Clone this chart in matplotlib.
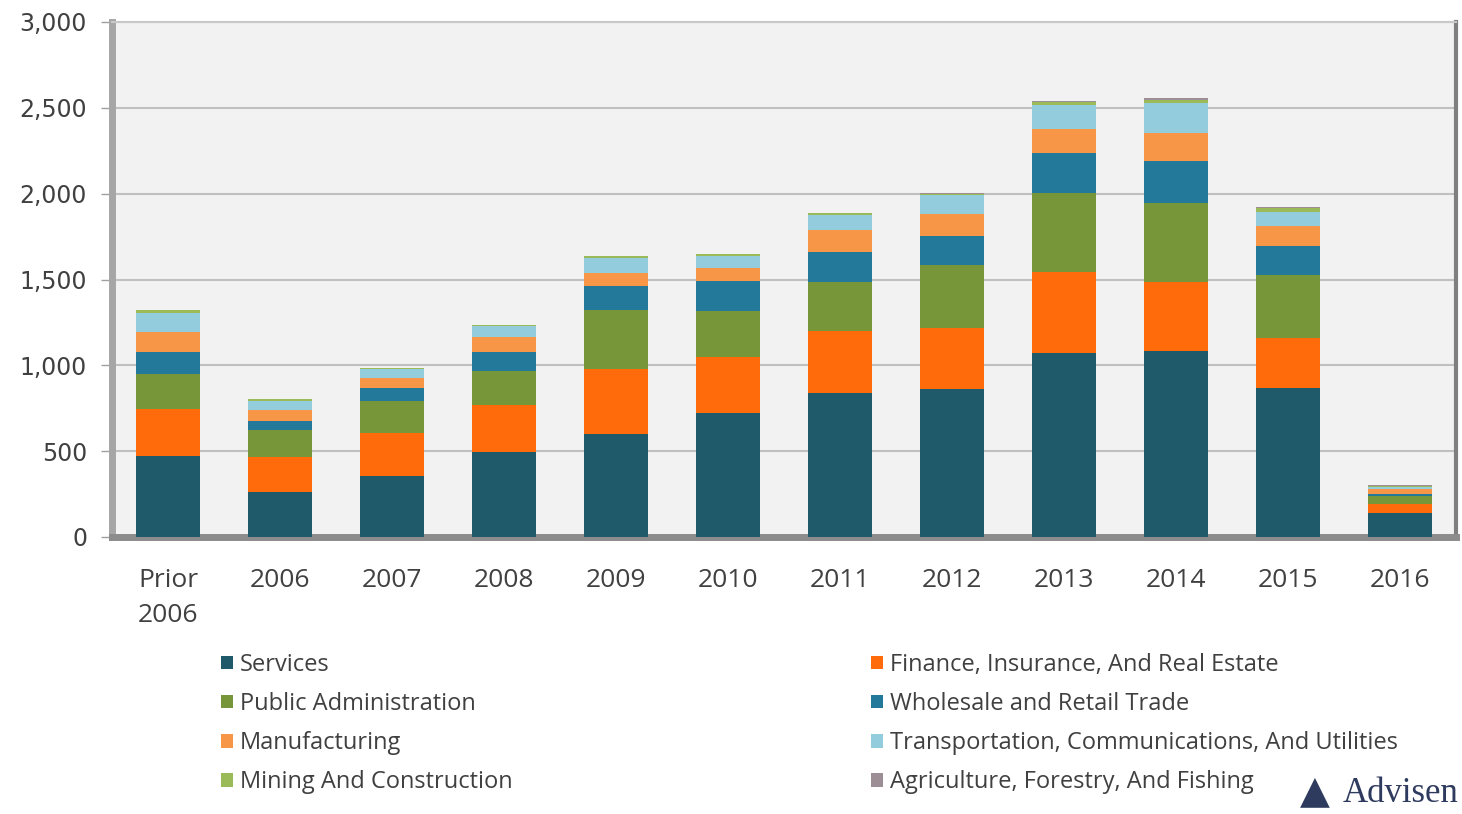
import numpy as np
import matplotlib
matplotlib.use("Agg")
import matplotlib.pyplot as plt

# values
years = ["Prior\n2006", "2006", "2007", "2008", "2009", "2010",
         "2011", "2012", "2013", "2014", "2015", "2016"]
services = [473, 264, 355, 495, 600, 720, 837, 860, 1074, 1085, 866, 140]
finance = [271, 200, 249, 274, 377, 330, 363, 356, 471, 398, 291, 50]
public_admin = [204, 159, 190, 198, 345, 268, 285, 368, 460, 460, 369, 50]
wholesale = [131, 54, 72, 112, 140, 173, 177, 171, 233, 249, 171, 12]
manufacturing = [117, 63, 58, 88, 74, 74, 126, 124, 136, 159, 116, 25]
transportation = [107, 54, 53, 62, 87, 72, 87, 113, 142, 175, 82, 14]
mining = [19, 8, 7, 5, 12, 9, 12, 8, 20, 22, 24, 8]
agriculture = [3, 2, 2, 1, 2, 2, 2, 2, 5, 7, 5, 2]

series = [
    ("Services", services, "#1f5a6b"),
    ("Finance, Insurance, And Real Estate", finance, "#ff6a0a"),
    ("Public Administration", public_admin, "#77963a"),
    ("Wholesale and Retail Trade", wholesale, "#22799a"),
    ("Manufacturing", manufacturing, "#f79646"),
    ("Transportation, Communications, And Utilities", transportation, "#93cddd"),
    ("Mining And Construction", mining, "#9bbb59"),
    ("Agriculture, Forestry, And Fishing", agriculture, "#9c8e94"),
]

fig = plt.figure(figsize=(14.62, 8.14), dpi=100)
ax = fig.add_axes([112 / 1462, 1 - 537 / 814, 1344 / 1462, 515 / 814])
ax.set_facecolor("#f2f2f2")

x = np.arange(len(years))
bottom = np.zeros(len(years))
handles = {}
for name, vals, col in series:
    b = ax.bar(x, vals, 0.57, bottom=bottom, color=col, label=name, zorder=3)
    handles[name] = b
    bottom += np.array(vals)

ax.set_xlim(-0.5, len(years) - 0.5)
ax.set_ylim(0, 3000)
ax.set_yticks(np.arange(0, 3001, 500))
ax.set_yticklabels([f"{v:,}" for v in range(0, 3001, 500)],
                   fontsize=17, color="#404040", family="DejaVu Sans")
ax.yaxis.grid(True, color="#c0c0c0", lw=1.5, zorder=0)
ax.tick_params(axis="y", length=8, width=1, color="#a0a0a0", pad=10)
ax.set_xticks(x)
ax.set_xticklabels(years, fontsize=19, color="#404040", family="Open Sans",
                   linespacing=1.55)
ax.tick_params(axis="x", length=0, pad=22)

ax.spines["left"].set_color("#a6a6a6")
ax.spines["left"].set_linewidth(5)
ax.spines["bottom"].set_color("#8c8c8c")
ax.spines["bottom"].set_linewidth(5)
ax.spines["right"].set_color("#7f7f7f")
ax.spines["right"].set_linewidth(3)
ax.spines["top"].set_color("#c8c8c8")
ax.spines["top"].set_linewidth(1.5)

left_names = ["Services", "Public Administration", "Manufacturing",
              "Mining And Construction"]
right_names = ["Finance, Insurance, And Real Estate", "Wholesale and Retail Trade",
               "Transportation, Communications, And Utilities",
               "Agriculture, Forestry, And Fishing"]
common = dict(loc="upper left", frameon=False, borderpad=0,
              borderaxespad=0, handlelength=0.5, handleheight=0.5,
              handletextpad=0.3, labelspacing=0.64,
              prop={"family": "Open Sans", "size": 17})
leg1 = fig.legend([handles[n] for n in left_names], left_names,
                  bbox_to_anchor=(221 / 1462, 1 - 653 / 814), **common)
leg2 = fig.legend([handles[n] for n in right_names], right_names,
                  bbox_to_anchor=(871 / 1462, 1 - 653 / 814), **common)
for leg in (leg1, leg2):
    for t in leg.get_texts():
        t.set_color("#404040")

# logo at bottom right
fig.text(1300 / 1462, 1 - 810 / 814, "\u25b2", fontsize=28, color="#2e3b5e",
         ha="left", va="bottom", family="DejaVu Sans")
fig.text(1343 / 1462, 1 - 810 / 814, "Advisen", fontsize=25, color="#2e3b5e",
         ha="left", va="bottom", family="Liberation Serif")

fig.savefig("out.png", dpi=100)
